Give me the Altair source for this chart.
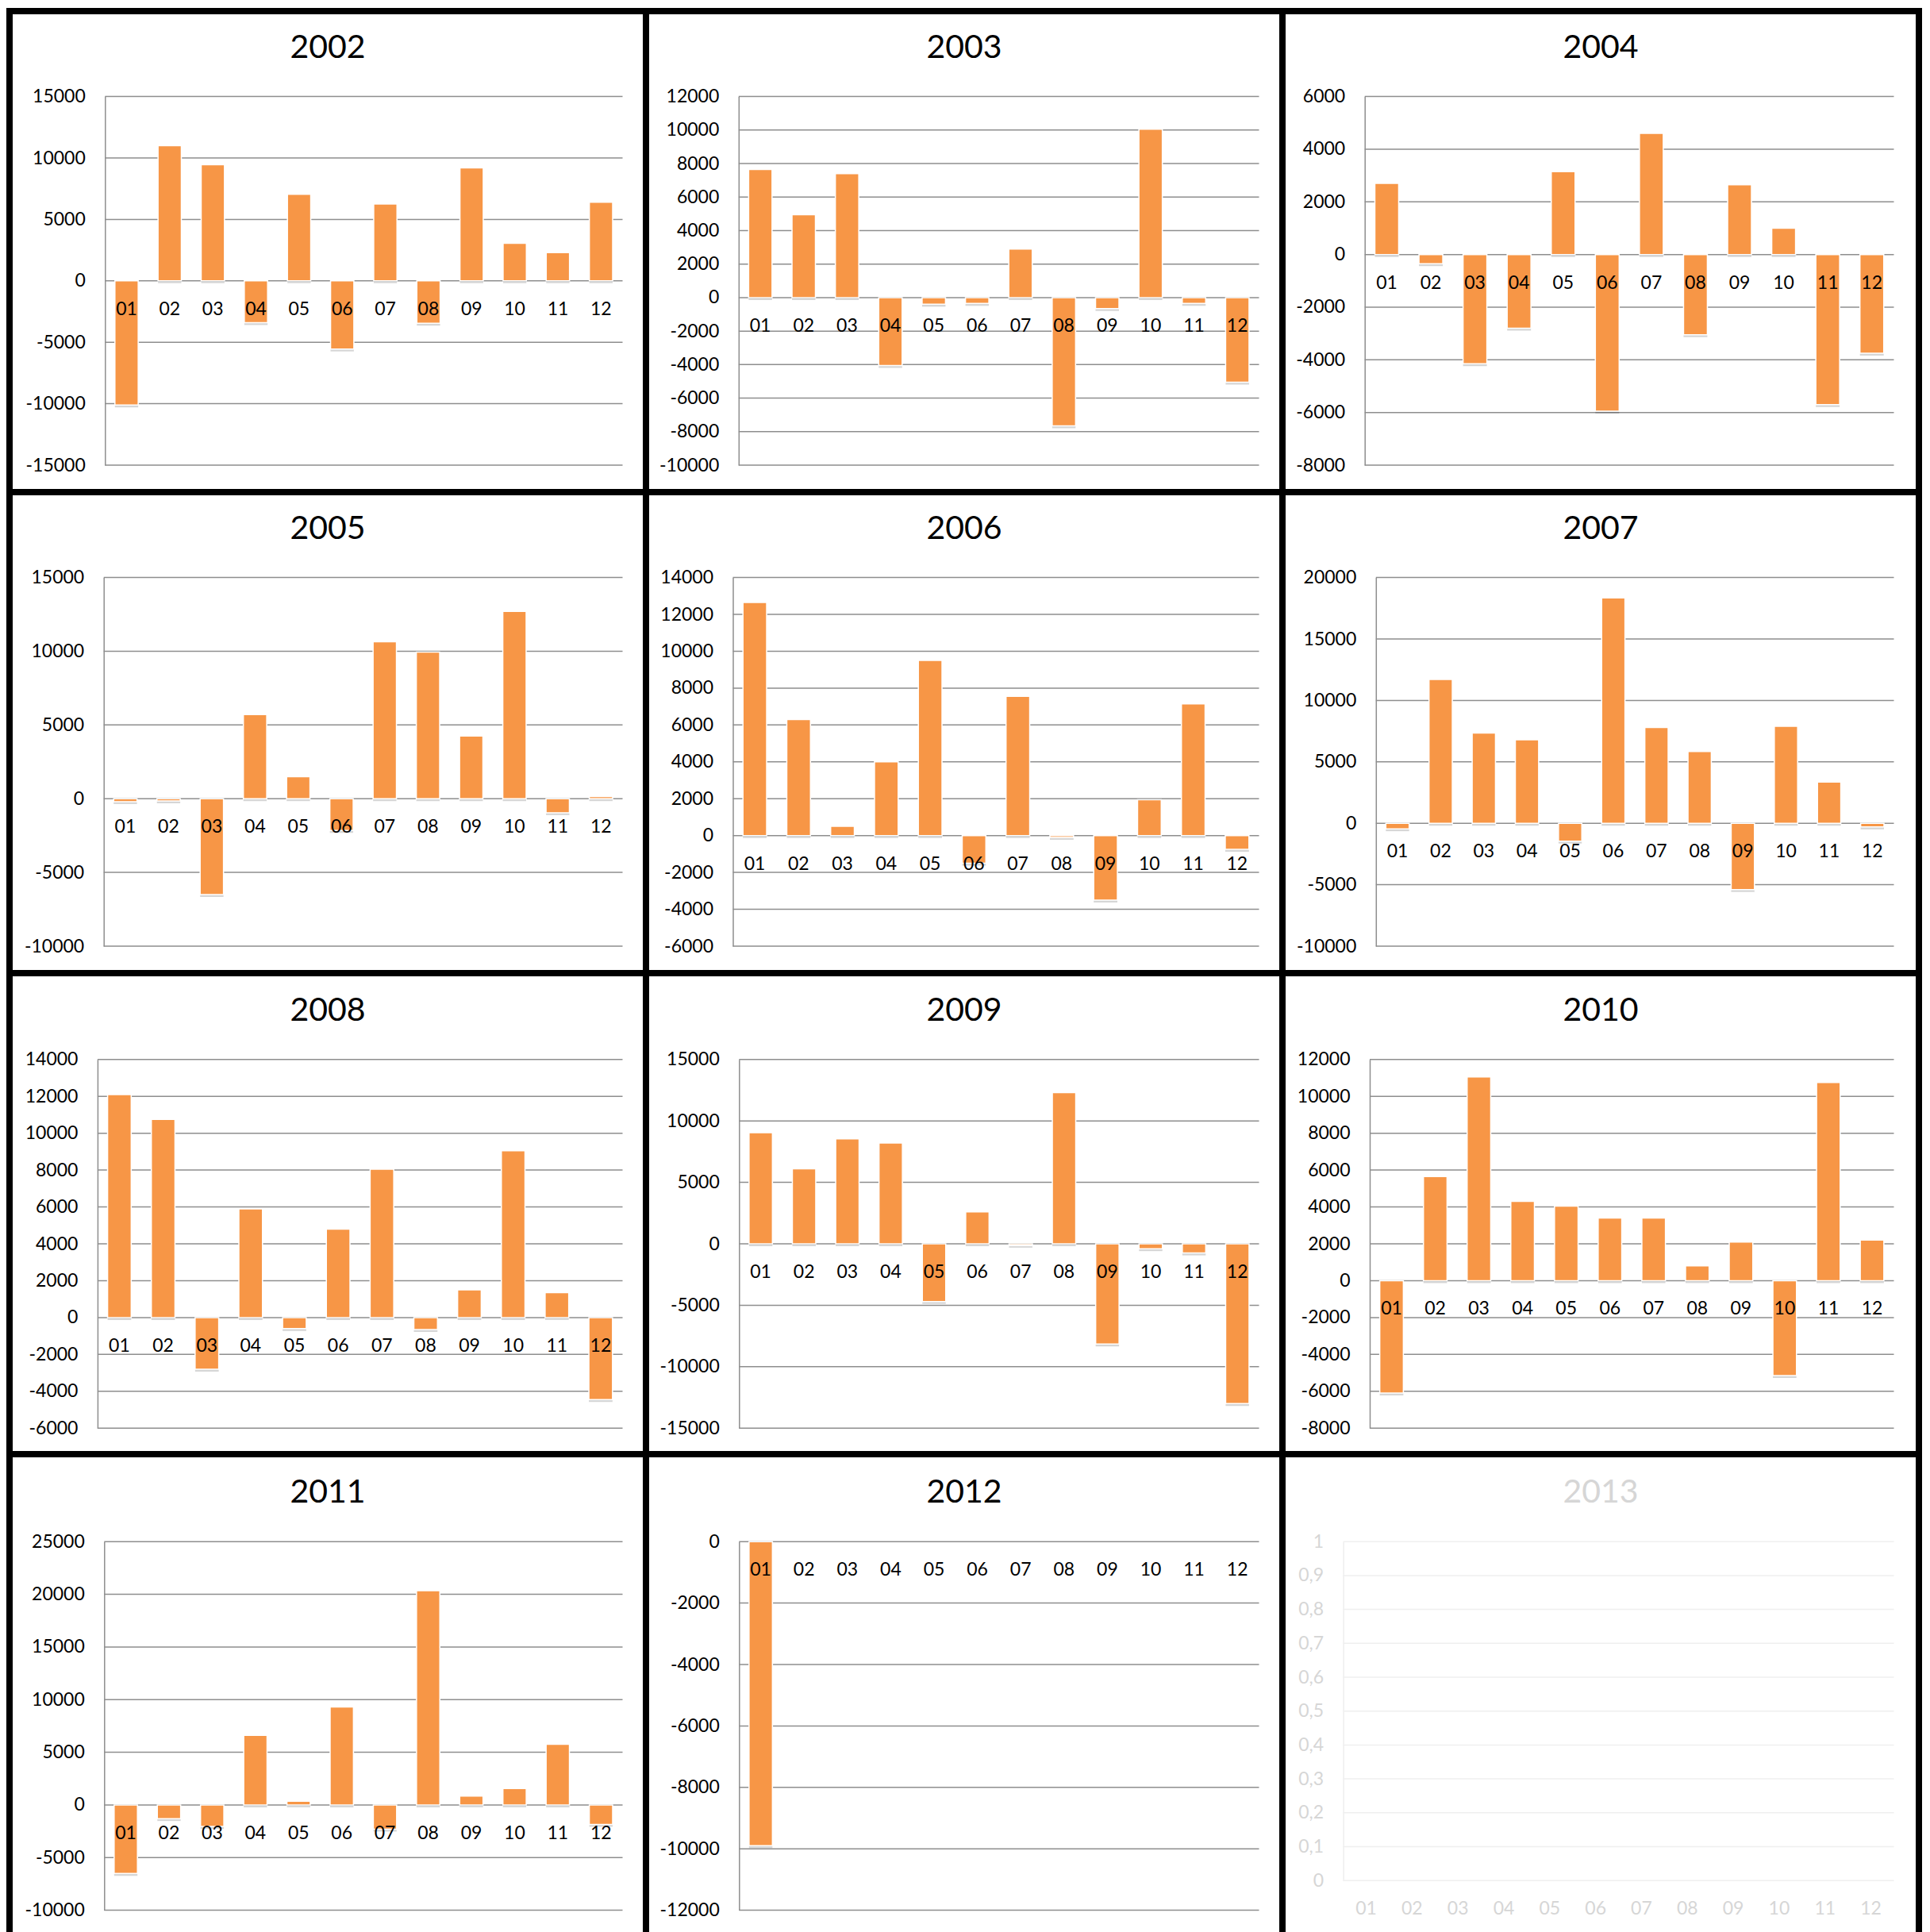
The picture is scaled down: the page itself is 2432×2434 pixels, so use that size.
import altair as alt
import pandas as pd

months = ["01", "02", "03", "04", "05", "06", "07", "08", "09", "10", "11", "12"]
years = ["2002", "2003", "2004", "2005", "2006", "2007",
         "2008", "2009", "2010", "2011", "2012", "2013"]

v2002 = [-10100, 11000, 9450, -3400, 7050, -5550, 6250, -3450, 9200, 3050, 2300, 6400]
v2003 = [7650, 4950, 7400, -4050, -400, -350, 2900, -7650, -650, 10050, -350, -5050]
v2004 = [2700, -350, -4150, -2800, 3150, -5950, 4600, -3050, 2650, 1000, -5700, -3750]
v2005 = [-200, -150, -6500, 5700, 1500, -2150, 10650, 9950, 4250, 12700, -950, 150]
v2006 = [12650, 6300, 500, 4000, 9500, -1500, 7550, -100, -3500, 1950, 7150, -750]
v2007 = [-450, 11700, 7350, 6800, -1450, 18350, 7800, 5850, -5400, 7900, 3350, -300]
v2008 = [12100, 10750, -2800, 5900, -600, 4800, 8050, -650, 1500, 9050, 1350, -4450]
v2009 = [9050, 6100, 8550, 8200, -4700, 2600, -120, 12300, -8150, -400, -750, -13000]
v2010 = [-6100, 5650, 11050, 4300, 4050, 3400, 3400, 800, 2100, -5150, 10750, 2200]
v2011 = [-6500, -1300, -2050, 6600, 350, 9300, -2300, 20350, 850, 1550, 5750, -1850]
v2012 = [-9900, None, None, None, None, None, None, None, None, None, None, None]
v2013 = [None, None, None, None, None, None, None, None, None, None, None, None]

values = [v2002, v2003, v2004, v2005, v2006, v2007,
          v2008, v2009, v2010, v2011, v2012, v2013]

y_min = [-15000, -10000, -8000, -10000, -6000, -10000, -6000, -15000, -8000, -10000, -12000, 0]
y_max = [15000, 12000, 6000, 15000, 14000, 20000, 14000, 15000, 12000, 25000, 0, 1]
y_step = [5000, 2000, 2000, 5000, 2000, 5000, 2000, 5000, 2000, 5000, 2000, 0.1]

# layout (pixels, relative to each panel's frame)
CW, CH = 802, 606
plot_left = [120.3, 116.8, 103.7, 118.7, 109.5, 117.8, 110.9, 117.3, 110.0, 119.3, 117.3, 76.6]
plot_right = [772.5, 772.5, 770.5]
plot_top = [107.6, 107.6, 108.8, 110.2]
PLOT_H = 464.4
PLOT_H_EMPTY = 427

FONT = "Lato"
ORANGE = "#F79646"


def panel(i):
    year = years[i]
    empty = year == "2013"
    row, col = divmod(i, 3)
    lp = plot_left[i]
    rp = plot_right[col]
    top = plot_top[row]
    h = PLOT_H_EMPTY if empty else PLOT_H
    fg = "#d6d6d6" if empty else "#000000"
    gridc = "#efefef" if empty else "#8e8e8e"

    n = int(round((y_max[i] - y_min[i]) / y_step[i]))
    ticks = [round(y_min[i] + k * y_step[i], 6) for k in range(n + 1)]

    df = pd.DataFrame({"month": months, "value": values[i]})
    base = alt.Chart(df)

    xenc = alt.X("month:N",
                 scale=alt.Scale(domain=months, range=[lp, rp],
                                 paddingInner=0.46, paddingOuter=0.23),
                 axis=None)
    yscale = alt.Scale(domain=[y_min[i], y_max[i]], range=[top + h, top],
                       nice=False, zero=False)
    yaxis = alt.Axis(values=ticks, grid=False, domainColor=gridc, domainWidth=1.5,
                     ticks=False, offset=-lp,
                     labelFont=FONT, labelFontSize=23, labelColor=fg,
                     labelPadding=25, labelFlush=False, labelOverlap=False,
                     title=None,
                     labelExpr="replace(replace(format(datum.value, '~g'), '\u2212', '-'), '.', ',')")

    grid = alt.Chart(pd.DataFrame({"tick": ticks})).mark_rule(
        color=gridc, strokeWidth=1.5
    ).encode(y=alt.Y("tick:Q", scale=yscale, axis=yaxis),
             x=alt.value(lp), x2=alt.value(rp))

    shadow = base.transform_filter("isValid(datum.value)").mark_bar(
        color="#000000", opacity=0.16, yOffset=3
    ).encode(x=xenc, y=alt.Y("value:Q", scale=yscale, axis=yaxis))

    bars = base.transform_filter("isValid(datum.value)").mark_bar(
        color=ORANGE, stroke="white", strokeWidth=1.5
    ).encode(x=xenc, y=alt.Y("value:Q", scale=yscale, axis=yaxis))

    labels = base.mark_text(
        font=FONT, fontSize=23, color=fg, baseline="middle", align="center", dy=36
    ).encode(x=xenc, y=alt.datum(0), text="month:N")

    title = alt.Chart(pd.DataFrame({"t": [year]})).mark_text(
        font=FONT, fontSize=41, color=fg, baseline="middle", align="center"
    ).encode(x=alt.value(CW / 2), y=alt.value(top - 61), text="t:N")

    return alt.layer(grid, shadow, bars, labels, title).properties(width=CW, height=CH)


chart = alt.concat(*[panel(i) for i in range(12)],
                   columns=3, spacing=0, bounds="flush").properties(
    padding={"left": 0, "top": 2, "right": 0, "bottom": 0},
    background="white",
).configure_view(stroke="black", strokeWidth=8, fill="white")

chart.save("out.html", embed_options={"renderer": "svg", "actions": False})
